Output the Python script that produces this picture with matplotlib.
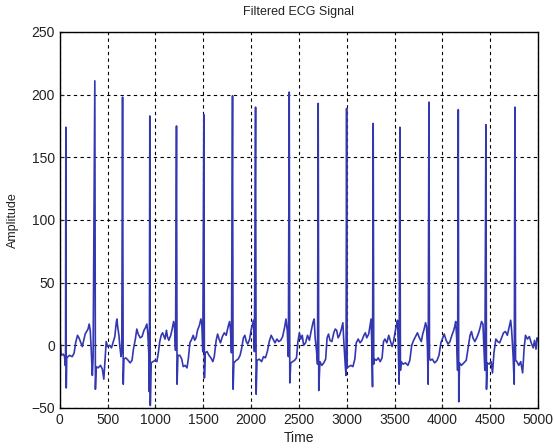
import matplotlib
matplotlib.use("Agg")
import matplotlib.pyplot as plt

plt.rcParams['font.family'] = ['Liberation Sans', 'DejaVu Sans']

time_pts = [
    0, 8, 15, 35, 50, 56, 60, 63, 67, 72, 100, 130, 150, 165, 185, 200, 215, 235, 250, 265, 280, 295, 307, 318, 328, 340, 348,
    366, 372, 380, 400, 425, 445, 460, 470, 485, 500, 520, 540, 560, 575, 590, 597, 605, 618, 628, 640, 648,
    656, 663, 670, 690, 715, 735, 755, 770, 790, 805, 820, 840, 860, 880, 895, 910, 920, 930, 936,
    941, 946, 955, 975, 995, 1015, 1030, 1045, 1060, 1075, 1090, 1100, 1115, 1125, 1140, 1160, 1175, 1190, 1200, 1210,
    1220, 1226, 1235, 1255, 1275, 1290, 1310, 1330, 1345, 1360, 1380, 1395, 1410, 1425, 1440, 1460, 1475, 1485, 1495,
    1506, 1512, 1520, 1540, 1560, 1580, 1600, 1615, 1635, 1650, 1665, 1680, 1700, 1720, 1740, 1760, 1775, 1785, 1795,
    1806, 1812, 1820, 1845, 1865, 1885, 1900, 1920, 1935, 1950, 1965, 1985, 2000, 2015, 2025, 2035,
    2047, 2053, 2062, 2085, 2110, 2130, 2150, 2170, 2190, 2210, 2230, 2250, 2270, 2290, 2310, 2330, 2350, 2365, 2378, 2390,
    2399, 2405, 2415, 2435, 2455, 2475, 2490, 2505, 2520, 2535, 2550, 2570, 2590, 2610, 2630, 2650, 2660, 2670, 2685, 2695,
    2702, 2708, 2720, 2740, 2760, 2780, 2795, 2810, 2825, 2845, 2865, 2880, 2895, 2910, 2925, 2945, 2960, 2970, 2985, 2993,
    2999, 3005, 3020, 3045, 3065, 3085, 3100, 3120, 3140, 3160, 3180, 3195, 3210, 3230, 3245, 3255, 3262, 3270,
    3277, 3283, 3290, 3310, 3330, 3350, 3370, 3385, 3400, 3420, 3440, 3455, 3475, 3490, 3505, 3520, 3532, 3540, 3548,
    3556, 3562, 3570, 3590, 3615, 3640, 3660, 3680, 3700, 3720, 3740, 3760, 3780, 3795, 3810, 3825, 3835, 3845, 3852,
    3860, 3866, 3875, 3895, 3920, 3945, 3965, 3985, 4000, 4020, 4040, 4060, 4080, 4100, 4115, 4130, 4140, 4150, 4160,
    4167, 4172, 4180, 4200, 4225, 4250, 4270, 4290, 4305, 4320, 4340, 4360, 4380, 4395, 4410, 4425, 4435, 4445,
    4456, 4462, 4470, 4490, 4510, 4525, 4540, 4560, 4580, 4600, 4620, 4640, 4660, 4680, 4700, 4715, 4725, 4740, 4752,
    4760, 4766, 4780, 4800, 4820, 4840, 4855, 4870, 4890, 4910, 4930, 4950, 4965, 4980, 4992, 5000,
]
amp_pts = [
    5, 0, -8, -7, -9, -16, -5, 174, -34, -10, -8, -9, -6, 2, 8, 6, 3, -1, 4, 9, 11, 13, 17, 12, -3, -24, -10,
    211, -35, -17, -18, -16, -19, -27, -15, 3, -1, 0, -2, 3, 7, 18, 21, 15, 8, -1, -9, -4,
    198, -31, -11, -10, -12, -14, -12, -3, 5, 13, 9, 6, 7, 12, 14, 17, 10, -6, -37,
    183, -48, -14, -13, -12, -13, -6, 3, 8, 10, 7, 5, 12, 7, 4, 8, 13, 19, 14, -4,
    175, -31, -8, -8, -11, -17, -16, -18, -10, 2, 5, 8, 4, 6, 12, 16, 21, 17, -5,
    184, -26, -6, -5, -8, -10, -13, -9, 4, 9, 5, 2, 7, 10, 8, 15, 19, 12, -6,
    199, -35, -14, -12, -11, -8, -3, 6, 8, 3, 1, 5, 12, 17, 20, -5,
    190, -39, -12, -11, -13, -9, -10, -5, 3, 8, 5, 2, 5, 3, 4, 7, 14, 21, 12, -9,
    202, -30, -14, -13, -12, -10, 3, 10, 5, 8, 0, 2, 8, 4, 12, 19, 21, 6, -5, -15,
    193, -36, -13, -16, -14, -11, 6, 9, 4, 3, 10, 13, 12, 6, 8, 13, 18, 3, -16, -24,
    189, -18, -17, -16, -17, -11, 2, 5, 2, 4, 8, 10, 6, 9, 16, 21, 2, -33,
    177, -15, -11, -12, -10, -13, -10, 3, 5, 2, 8, 4, -1, 3, 10, 16, 20, -2, -31,
    174, -20, -13, -15, -14, -16, -12, 0, 4, 7, 10, 6, 3, 9, 13, 18, 15, -3, -31,
    194, -10, -12, -11, -14, -12, -8, 2, 5, 9, 4, 1, 3, 8, 11, 15, 19, 6, -20,
    188, -45, -14, -16, -14, -12, -2, 8, 11, 6, 3, 6, 10, 14, 19, 17, -2, -20,
    176, -35, -14, -15, -13, -22, -6, 5, 3, 2, 6, 10, 11, 8, 15, 20, 12, -8, -31,
    190, -12, -13, -16, -13, -22, -3, 8, 5, 7, 2, -2, 4, -3, 6, 4,
]

x_ticks = list(range(0, 5001, 500))
y_ticks = list(range(-50, 251, 50))

fig = plt.figure(figsize=(5.54, 4.48), dpi=100)
ax = fig.add_axes([0.108, 0.0893, 0.863, 0.8393])

ax.plot(time_pts, amp_pts, color='#3438b0', linewidth=1.2)

ax.set_xlim(0, 5000)
ax.set_ylim(-50, 250)
ax.set_xticks(x_ticks)
ax.set_yticks(y_ticks)
ax.tick_params(direction='in', length=3, labelsize=10, colors='#222222')
ax.grid(True, color='black', linestyle=(0, (3, 3)), linewidth=0.8)
for s in ax.spines.values():
    s.set_linewidth(1.0)

ax.set_title('Filtered ECG Signal', fontsize=9, pad=12, color='#222222')
ax.set_xlabel('Time', fontsize=10, labelpad=3, color='#222222')
ax.set_ylabel('Amplitude', fontsize=9, labelpad=9, color='#222222')

fig.savefig('out.png', dpi=100)
